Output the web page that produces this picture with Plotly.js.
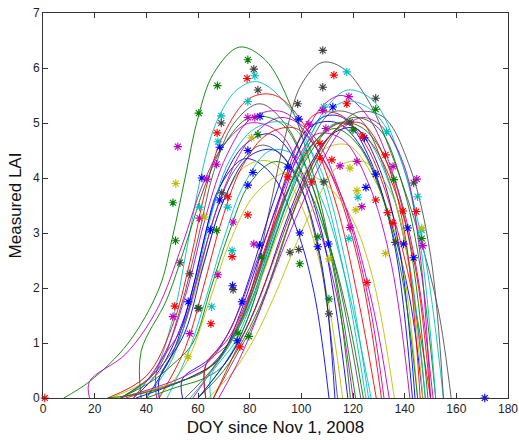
<!DOCTYPE html>
<html>
<head>
<meta charset="utf-8">
<script src="https://cdn.plot.ly/plotly-3.0.1.min.js"></script>
<style>html,body{margin:0;padding:0;background:#fff;}#chart{width:519px;height:440px;}</style>
</head>
<body>
<div id="chart"></div>
<script>
// Fitted LAI curves (DOY since Nov 1, 2008 -> LAI)
const fitX = [
  [8,18,33,45,50,55,60,66,76,86,96,105,113,121],
  [35,45,55,62,68,78,88,98,105,110.7],
  [30,42,50,56,61,67,75,83,95,106,116,125],
  [25,40,50,57,63,70,80,90,102,113,122,129],
  [30,44,53,60,66,74,84,95,106,115,123],
  [18,18,32,44,54,62,70,80,92,104,114,120],
  [26,38,48,56,63,70,78,88,98,108,116],
  [40,50,58,64,70,78,88,98,108,118],
  [38,38,48,56,63,70,80,92,104,113,119],
  [30,42,52,60,67,75,85,96,106,114],
  [40,50,58,65,72,82,94,106,117,126],
  [44,44,54,62,70,80,92,104,116,126,132],
  [45,55,62,69,77,87,98,110,122,131],
  [44,55,64,72,82,94,106,118,127,136],
  [45,45,55,62,70,80,90,100,108,113],
  [35,47,56,63,71,81,93,105,117,128,134],
  [30,42,50,58,65,72,80,90,100,110,118,124],
  [48,56,63,70,78,88,98,108,118,127],
  [55,65,75,82,88,94,100,108,116,126,136,146,153,158],
  [60,70,78,86,94,102,110,118,128,138,147,155],
  [32,46,56,64,72,80,88,96,105,115,125,135,143,150],
  [54,54,64,72,80,88,96,104,114,124,134,142,147],
  [40,52,62,70,78,86,95,104,114,124,134,142,149],
  [58,68,76,84,92,100,108,116,126,136,144,151],
  [28,42,56,66,75,83,91,99,108,118,128,138,145],
  [63,63,72,80,88,96,104,112,122,132,141,148],
  [65,65,74,82,90,98,106,114,124,134,142,148],
  [36,48,58,68,76,84,92,100,108,116,126,136,143],
  [63,63,72,80,88,97,106,116,126,136,144,150],
  [60,70,78,86,94,102,110,120,130,139,146,152],
  [30,44,55,65,74,82,90,98,106,116,126,135,142],
  [66,74,82,90,98,106,114,122,132,142,150,155],
  [60,70,78,86,94,103,112,121,130,138,144],
  [64,74,82,90,98,106,114,124,134,141,147],
  [57,67,76,84,92,100,108,118,128,138,146,152],
  [66,74,82,90,98,106,114,123,132,140,146],
  [25,40,53,63,72,80,88,96,104,113,122,131,139,145],
  [68,76,84,92,100,108,116,124,132,140,146,150]
];
const fitY = [
  [0,0.3,1.0,2.0,2.9,4.0,5.1,5.9,6.38,6.15,5.3,4.0,2.3,0],
  [0,0.5,1.5,2.8,3.8,4.35,4.1,3.1,1.9,0],
  [0,0.4,1.4,2.8,4.0,5.0,5.6,5.75,5.3,4.2,2.4,0],
  [0,0.4,1.3,2.5,3.8,4.8,5.45,5.5,4.9,3.6,1.8,0],
  [0,0.5,1.6,2.9,4.1,5.0,5.35,4.9,3.6,2.0,0],
  [0,0.3,0.8,1.6,2.8,3.9,4.6,5.0,4.8,3.5,1.8,0],
  [0,0.25,0.6,1.5,2.6,3.6,4.2,4.3,3.7,2.3,0],
  [0,0.8,2.0,3.2,4.0,4.6,4.8,4.3,3.0,0],
  [0,0.85,1.8,2.9,3.9,4.6,5.1,5.0,3.9,2.2,0],
  [0,0.4,1.0,2.2,3.4,4.2,4.6,4.2,2.8,0],
  [0,0.7,1.9,3.3,4.3,4.9,5.0,4.3,2.5,0],
  [0,0.5,1.3,2.6,3.8,4.7,5.1,4.8,3.6,1.8,0],
  [0,0.9,2.0,3.2,4.2,4.8,4.9,4.2,2.5,0],
  [0,0.6,1.7,2.8,3.7,4.1,4.0,3.4,2.3,0],
  [0,0.35,1.2,2.4,3.6,4.4,4.5,3.8,2.4,0],
  [0,0.8,2.0,3.3,4.4,5.1,5.2,4.6,3.5,1.6,0],
  [0,0.3,0.6,1.0,2.0,3.0,3.9,4.3,4.0,2.9,1.5,0],
  [0,0.8,1.8,2.9,3.9,4.5,4.4,3.6,2.0,0],
  [0,0.5,1.2,2.2,3.5,4.8,5.7,6.1,6.0,5.4,4.3,2.9,1.6,0],
  [0,0.6,1.3,2.4,3.5,4.6,5.3,5.6,5.4,4.4,2.8,0],
  [0,0.2,0.35,0.55,1.0,1.8,3.0,4.3,5.15,5.15,4.6,3.4,1.9,0],
  [0,0.35,0.7,1.2,2.2,3.4,4.4,4.95,5.0,4.5,3.3,1.8,0],
  [0,0.2,0.35,0.6,1.3,2.4,3.6,4.5,5.0,4.9,4.2,2.8,0],
  [0,0.7,1.4,2.4,3.5,4.6,5.3,5.5,5.1,4.0,2.5,0],
  [0,0.15,0.35,0.6,1.2,2.0,3.0,3.9,4.5,4.6,4.0,2.7,0],
  [0,0.6,1.0,1.7,2.8,3.9,4.7,5.2,5.1,4.2,2.6,0],
  [0,0.4,1.0,1.9,3.0,4.0,4.7,5.0,4.8,3.9,2.4,0],
  [0,0.2,0.4,0.7,1.5,2.6,3.7,4.6,5.1,5.1,4.4,2.8,0],
  [0,0.6,1.1,1.9,3.0,4.0,4.7,5.0,4.7,3.8,2.4,0],
  [0,0.5,1.1,1.9,3.0,4.0,4.7,5.1,4.9,3.9,2.4,0],
  [0,0.2,0.4,0.7,1.4,2.4,3.4,4.3,4.8,4.7,3.9,2.4,0],
  [0,0.7,1.4,2.4,3.5,4.3,4.9,5.2,5.1,4.2,2.6,0],
  [0,0.6,1.2,2.1,3.2,4.2,4.8,4.9,4.2,2.7,0],
  [0,0.5,1.1,1.9,2.8,3.6,4.2,4.3,3.8,2.6,0],
  [0,0.6,1.3,2.3,3.4,4.4,5.1,5.4,5.2,4.4,2.8,0],
  [0,0.8,1.6,2.6,3.6,4.4,4.9,5.0,4.4,3.0,0],
  [0,0.1,0.3,0.5,1.0,1.8,2.9,3.9,4.6,4.9,4.6,3.7,2.2,0],
  [0,0.7,1.6,2.6,3.5,4.3,4.9,5.1,4.9,4.2,2.6,0]
];
const fitColor = ['g','b','c','r','k','m','y','b','g','k','c','m','r','y','b','m','g','c',
                  'k','c','r','b','g','m','y','k','c','b','r','g','m','k','b','y','c','r','g','m'];

// Measured LAI points (asterisks), grouped by colour
const obsBlueX = [61.5,68.4,79.3,81.3,79.3,68.4,84,64.8,56.2,77,73.4,94.8,99.4,106.4,110.5,83.8,99,112.2,124.4,128.8,125,141.2,139.6,143.5,171,75.2];
const obsBlueY = [4.0,4.56,4.5,4.1,3.87,3.6,5.12,3.06,1.75,1.75,2.04,4.2,3.0,2.75,2.8,2.78,5.07,5.29,4.73,4.07,3.83,3.09,2.8,2.55,0,1.04];
const obsGreenX = [79.3,67.5,60.3,83.2,50.3,51.3,67.2,60.3,79.7,75.5,99.4,106.4,110.7,84.6,128.8,120,135.8,146.6];
const obsGreenY = [6.15,5.68,5.18,4.79,3.55,2.86,3.05,1.64,1.12,1.18,2.44,2.93,1.8,2.56,5.25,4.87,3.97,2.9];
const obsRedX = [79,67.4,71.5,65,76.2,73.2,0.7,51,79.3,94.8,104,112.6,117.6,123.8,107.2,107.2,132.6,128.8,133.4,135.4,139.3,144.5,111.8,125.4];
const obsRedY = [5.81,4.82,3.66,1.35,0.93,2.57,0,1.67,3.33,4.02,3.93,5.87,5.35,4.76,4.63,4.36,4.42,3.6,3.37,3.18,3.4,3.39,4.33,2.1];
const obsCyanX = [82,79.3,69,67.7,60.6,71.5,73.2,65.3,117.6,108.7,133,121.9,145,146.6,118.4];
const obsCyanY = [5.86,5.39,5.13,4.66,3.47,3.47,2.68,1.66,5.93,5.29,4.84,3.65,3.66,3.05,2.9];
const obsMagentaX = [79.3,82,52.2,67.2,63.5,60.6,73.6,67.7,56.8,50.3,108.3,118.4,102.9,109.5,115,121.5,135.5,123.4,144.7,147,118.8,81.6];
const obsMagentaY = [5.1,5.1,4.57,4.25,3.98,3.27,3.2,2.24,1.17,1.48,5.23,5.48,4.98,4.9,4.22,4.3,4.21,3.48,3.98,2.77,3.1,2.8];
const obsYellowX = [80.7,51.4,62.6,56.2,110.7,132.6,118.8,121.5,121.1,146.6];
const obsYellowY = [4.73,3.9,3.29,0.75,2.53,2.63,4.18,3.77,3.42,3.09];
const obsGrayX = [81.6,83.2,69,53,56.8,73.6,95.6,99,110.7,108.3,108.3,128.8,98.6,118.8,108.7,143.5,136.4,69.2,60];
const obsGrayY = [5.98,5.6,5.0,2.46,2.26,1.97,2.65,2.7,1.53,6.32,5.65,5.45,5.35,5.02,3.93,3.91,2.83,3.73,1.63];

const xTicks = [0,20,40,60,80,100,120,140,160,180];
const yTicks = [0,1,2,3,4,5,6,7];

const palette = {b:'#0000ff', g:'#008000', r:'#ff0000', c:'#00bfbf', m:'#bf00bf', y:'#bfbf00', k:'#505050'};

const traces = [];
fitX.forEach((xs, i) => {
  traces.push({
    x: xs, y: fitY[i], type: 'scatter', mode: 'lines',
    line: {color: palette[fitColor[i]], width: 0.9, shape: 'spline', smoothing: 1},
    hoverinfo: 'skip'
  });
});
const obsSets = [
  [obsBlueX, obsBlueY, '#0000ff'],
  [obsGreenX, obsGreenY, '#008000'],
  [obsRedX, obsRedY, '#ff0000'],
  [obsCyanX, obsCyanY, '#00bfbf'],
  [obsMagentaX, obsMagentaY, '#bf00bf'],
  [obsYellowX, obsYellowY, '#bfbf00'],
  [obsGrayX, obsGrayY, '#404040']
];
obsSets.forEach(([xs, ys, col]) => {
  traces.push({
    x: xs, y: ys, type: 'scatter', mode: 'markers', cliponaxis: false,
    marker: {symbol: 'asterisk-open', size: 7, color: col, line: {color: col, width: 1.1}}
  });
});

const axisCommon = {
  showgrid: false, zeroline: false, showline: true, mirror: 'ticks',
  linecolor: '#333', linewidth: 1, ticks: 'inside', ticklen: 5, tickcolor: '#333',
  tickfont: {family: 'Liberation Sans, Arial, sans-serif', size: 12, color: '#222'}
};

const layout = {
  width: 519, height: 440,
  margin: {l: 43, r: 11, t: 13, b: 42},
  paper_bgcolor: '#fff', plot_bgcolor: '#fff',
  showlegend: false,
  xaxis: Object.assign({}, axisCommon, {
    range: [0, 180], tickvals: xTicks, ticktext: xTicks.map(String),
    title: {text: 'DOY since Nov 1, 2008', standoff: 5,
            font: {family: 'Liberation Sans, Arial, sans-serif', size: 17, color: '#111'}}
  }),
  yaxis: Object.assign({}, axisCommon, {
    range: [0, 7], tickvals: yTicks, ticktext: yTicks.map(String),
    title: {text: 'Measured LAI', standoff: 6,
            font: {family: 'Liberation Sans, Arial, sans-serif', size: 17, color: '#111'}}
  })
};

Plotly.newPlot('chart', traces, layout, {displayModeBar: false, staticPlot: true});
</script>
</body>
</html>
